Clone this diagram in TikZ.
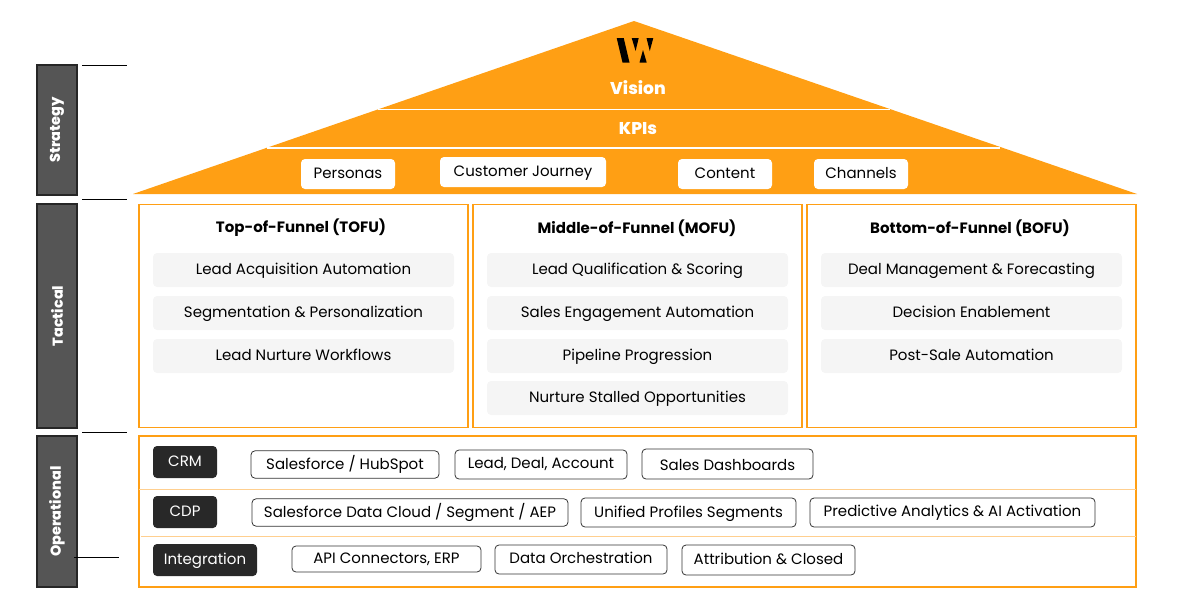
\documentclass[tikz,border=0pt]{standalone}
\usepackage{fontspec}
\setmainfont{Poppins}
\newfontfamily\heavyfont{Poppins ExtraBold}
\usepackage{tikz}
\usetikzlibrary{positioning}
\definecolor{roofc}{HTML}{FF9F14}
\definecolor{pillc}{HTML}{F5F5F5}
\definecolor{sidec}{HTML}{555555}
\definecolor{tagc}{HTML}{282828}
\definecolor{sepc}{HTML}{FFCF8F}
\tikzset{
    sidebox/.style={
           rectangle,
           draw=black!85, line width=1.5pt,
           fill=sidec,
           minimum width=30pt,
           inner sep=0pt,
           text=white,
           font=\heavyfont\fontsize{10.8}{13}\selectfont,
           },
    funnelbox/.style={
           rectangle,
           draw=roofc, line width=1.4pt,
           },
    pill/.style={
           rectangle,
           rounded corners=3pt,
           fill=pillc,
           minimum width=225.75pt,
           minimum height=25.5pt,
           inner sep=0pt,
           text height=9.3pt,
           text depth=2.5pt,
           font=\fontsize{11.25}{13}\selectfont,
           },
    roofchip/.style={
           rectangle,
           rounded corners=3pt,
           fill=white,
           minimum height=22.5pt,
           inner sep=0pt,
           text height=9.3pt,
           text depth=2.5pt,
           font=\fontsize{11.25}{13}\selectfont,
           },
    tag/.style={
           rectangle,
           rounded corners=3pt,
           fill=tagc,
           text=white,
           minimum height=24pt,
           inner sep=0pt,
           text height=9.3pt,
           text depth=2.5pt,
           font=\fontsize{11.25}{13}\selectfont,
           },
    chip/.style={
           rectangle,
           rounded corners=3pt,
           draw=black!80, line width=0.6pt,
           fill=white,
           minimum height=20.5pt,
           inner sep=0pt,
           text height=9.3pt,
           text depth=2.5pt,
           font=\fontsize{11.25}{13}\selectfont,
           },
    heading/.style={
           font=\bfseries\fontsize{11.25}{13}\selectfont,
           },
    rooflabel/.style={
           text=white,
           font=\heavyfont\fontsize{12.8}{15}\selectfont,
           },
    leader/.style={
           draw=black, line width=0.7pt,
           },
}
\begin{document}
\begin{tikzpicture}[x=0.75pt,y=-0.75pt]
 \useasboundingbox (0,0) rectangle (1197,596);

 % ROOF
 \fill[roofc] (634,21) -- (1137,194) -- (133,194) -- cycle;
 \draw[white,line width=1pt] (378,109.5) -- (890,109.5);
 \draw[white,line width=1pt] (267,148) -- (1000,148);

 % LOGO
 \fill[black] (616.7,38) -- (623.7,38) -- (629.5,62.5) -- (622.5,62.5) -- cycle;
 \fill[black] (631.7,38) -- (638.7,38) -- (635.6,51) -- cycle;
 \fill[black] (643,50) -- (646.7,62.5) -- (639.5,62.5) -- cycle;
 \fill[black] (646.5,38) -- (653.3,38) -- (649.8,51) -- cycle;

 \node[rooflabel] (VISION) at (638,88) {Vision};
 \node[rooflabel] (KPIS) at (638,128.5) {KPIs};

 % ROOF CHIPS
 \node[roofchip,minimum width=70.5pt] (PERSONAS) at (348,174) {Personas};
 \node[roofchip,minimum width=124.5pt] (JOURNEY) at (523,172) {Customer Journey};
 \node[roofchip,minimum width=70.5pt] (CONTENT) at (725,174) {Content};
 \node[roofchip,minimum width=70.5pt] (CHANNELS) at (861,174) {Channels};

 % SIDE LABELS
 \node[sidebox,minimum height=97.5pt] (STRATEGY) at (57,130) {\rotatebox{90}{Strategy}};
 \node[sidebox,minimum height=168pt] (TACTICAL) at (57,316) {\rotatebox{90}{Tactical}};
 \node[sidebox,minimum height=113.25pt] (OPERATIONAL) at (57,511.5) {\rotatebox{90}{Operational}};

 % LEADER ENDS
 \coordinate (LA) at (82,65);
 \coordinate (LB) at (127,65);
 \coordinate (LC) at (82,199);
 \coordinate (LD) at (127,199);
 \coordinate (LE) at (82,432);
 \coordinate (LF) at (127,432);
 \coordinate (LG) at (74,557);
 \coordinate (LH) at (119,557);

 % FUNNEL BOXES
 \node[funnelbox,minimum width=247pt,minimum height=167.25pt] (TOFU) at (303.7,316) {};
 \node[funnelbox,minimum width=247pt,minimum height=167.25pt] (MOFU) at (637.7,316) {};
 \node[funnelbox,minimum width=247pt,minimum height=167.25pt] (BOFU) at (971.5,316) {};

 \node[heading] (TOFUHEAD) at (301,228) {Top-of-Funnel (TOFU)};
 \node[heading] (MOFUHEAD) at (637,228) {Middle-of-Funnel (MOFU)};
 \node[heading] (BOFUHEAD) at (970,228) {Bottom-of-Funnel (BOFU)};

 % TOFU
 \node[pill] (TA) at (303.5,270) {Lead Acquisition Automation};
 \node[pill] (TB) at (303.5,313) {Segmentation \& Personalization};
 \node[pill] (TC) at (303.5,356) {Lead Nurture Workflows};

 % MOFU
 \node[pill] (MA) at (637.5,270) {Lead Qualification \& Scoring};
 \node[pill] (MB) at (637.5,313) {Sales Engagement Automation};
 \node[pill] (MC) at (637.5,356) {Pipeline Progression};
 \node[pill] (MD) at (637.5,398) {Nurture Stalled Opportunities};

 % BOFU
 \node[pill] (BA) at (971.5,270) {Deal Management \& Forecasting};
 \node[pill] (BB) at (971.5,313) {Decision Enablement};
 \node[pill] (BC) at (971.5,356) {Post-Sale Automation};

 % OPERATIONAL
 \node[funnelbox,minimum width=747.75pt,minimum height=113.25pt] (OPBOX) at (637.5,511.5) {};
 \coordinate (SA) at (139,489.5);
 \coordinate (SB) at (1136,489.5);
 \coordinate (SC) at (141,536.5);
 \coordinate (SD) at (1136,536.5);

 \node[tag,minimum width=48pt] (CRM) at (185,462) {CRM};
 \node[tag,minimum width=48pt] (CDP) at (185,512) {CDP};
 \node[tag,minimum width=78pt] (INTEG) at (205,560) {Integration};

 \node[chip,minimum width=141pt] (RA) at (345,464.5) {Salesforce / HubSpot};
 \node[chip,minimum width=129pt,minimum height=21.75pt,text depth=3.5pt] (RB) at (541,464.5) {Lead, Deal, Account};
 \node[chip,minimum width=128.25pt,minimum height=22.5pt,text height=11.5pt] (RC) at (727.5,464) {Sales Dashboards};
 \node[chip,minimum width=237pt] (RD) at (410,512.5) {Salesforce Data Cloud / Segment / AEP};
 \node[chip,minimum width=161.25pt,minimum height=21.75pt] (RE) at (688.5,512.5) {Unified Profiles Segments};
 \node[chip,minimum width=213.75pt,minimum height=21.75pt,text depth=3.5pt] (RF) at (952.5,512.5) {Predictive Analytics \& AI Activation};
 \node[chip,minimum width=141.75pt,minimum height=19.5pt] (RG) at (386.5,559) {API Connectors, ERP};
 \node[chip,minimum width=129pt,minimum height=21.75pt,text depth=3.5pt] (RH) at (581,559.5) {Data Orchestration};
 \node[chip,minimum width=129.75pt,minimum height=22.5pt] (RI) at (768.5,560) {Attribution \& Closed};

 % LINES
 \path[leader]
  (LA) edge (LB)
  (LC) edge (LD)
  (LE) edge (LF)
  (LG) edge (LH)
 ;
 \path[draw=sepc,line width=0.7pt]
  (SA) edge (SB)
  (SC) edge (SD)
 ;
\end{tikzpicture}
\end{document}
